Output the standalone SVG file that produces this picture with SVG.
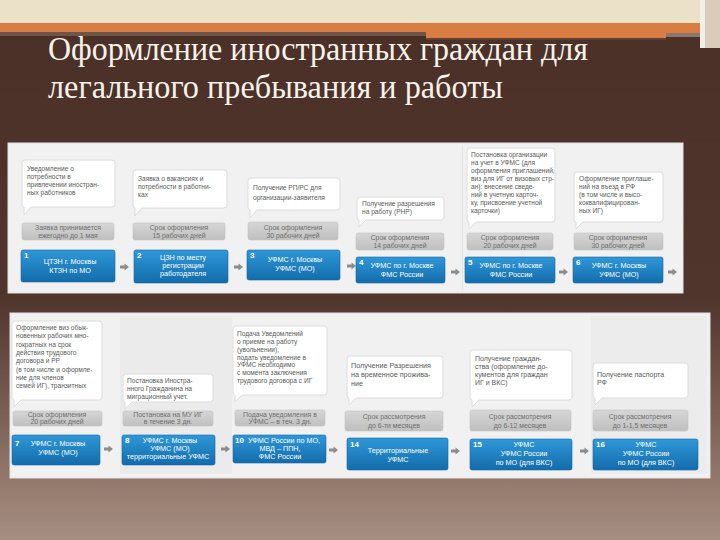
<svg xmlns="http://www.w3.org/2000/svg" width="720" height="540" viewBox="0 0 720 540">
<defs>
<linearGradient id="bg" x1="0" y1="0" x2="0" y2="1">
<stop offset="0" stop-color="#4a3027"/>
<stop offset="0.55" stop-color="#4f352c"/>
<stop offset="0.85" stop-color="#8b7164"/>
<stop offset="1" stop-color="#a68f82"/>
</linearGradient>
<linearGradient id="blue" x1="0" y1="0" x2="0" y2="1">
<stop offset="0" stop-color="#2f98d8"/>
<stop offset="1" stop-color="#136cab"/>
</linearGradient>
<linearGradient id="gray" x1="0" y1="0" x2="0" y2="1">
<stop offset="0" stop-color="#d6d6d6"/>
<stop offset="1" stop-color="#bfbfbf"/>
</linearGradient>
<path id="arr" d="M0,-1.6 H4.5 V-3.6 L9,0 L4.5,3.6 V1.6 H0 Z" fill="#8c8c8c"/>
<style>
.bub{fill:#ffffff;stroke:#dcdcdc;stroke-width:1}
.gb{fill:url(#gray);stroke:#c4c4c4;stroke-width:0.6}
.bb{fill:url(#blue);stroke:#1467a3;stroke-width:0.6}
.bt{font-family:"Liberation Sans",Arial,sans-serif;font-size:6.6px;fill:#5a5a5a}
.gt{font-family:"Liberation Sans",Arial,sans-serif;font-size:6.9px;fill:#6f6f6f;text-anchor:middle}
.wt{font-family:"Liberation Sans",Arial,sans-serif;font-size:7.2px;fill:#ffffff;text-anchor:middle}
.num{font-family:"Liberation Sans",Arial,sans-serif;font-size:8px;font-weight:bold;fill:#ffffff}
.ttl{font-family:"Liberation Serif","Times New Roman",serif;font-size:34px;fill:#f7f2ea}
</style>
</defs>

<!-- background -->
<rect x="0" y="0" width="720" height="540" fill="url(#bg)"/>
<rect x="0" y="0" width="720" height="23" fill="#ebe0c8"/>
<rect x="0" y="23" width="700" height="10" fill="#d97d43"/>
<rect x="0" y="32" width="426" height="4" fill="#6e5549"/>
<rect x="426" y="33" width="240" height="5" fill="#d97d43"/>
<rect x="426" y="38" width="240" height="2" fill="#5d3f33"/>
<rect x="666" y="33" width="36" height="4" fill="#8a776c"/>
<rect x="700" y="0" width="5" height="48" fill="#f2eee8"/>
<rect x="705" y="0" width="15" height="48" fill="#d8cdbb"/>

<!-- title -->
<text class="ttl" x="48" y="60" textLength="540" lengthAdjust="spacingAndGlyphs">Оформление иностранных граждан для</text>
<text class="ttl" x="48" y="98" textLength="455" lengthAdjust="spacingAndGlyphs">легального пребывания и работы</text>

<!-- panels -->
<rect x="8" y="143" width="675" height="150" fill="#f1f1f1" stroke="#e2e2e2"/>
<rect x="462" y="146" width="1" height="144" fill="#e4e4e4"/>
<rect x="10" y="313" width="700" height="165" fill="#f1f1f1" stroke="#e2e2e2"/>
<rect x="120" y="316" width="112" height="158" fill="#ebebeb"/>
<rect x="591" y="316" width="116" height="158" fill="#ececec"/>

<!-- connectors -->
<g id="connectors">
<use href="#arr" x="120" y="267"/>
<use href="#arr" x="234" y="267"/>
<use href="#arr" x="347" y="266"/>
<use href="#arr" x="451" y="272"/>
<use href="#arr" x="559" y="272"/>
<use href="#arr" x="668" y="272"/>
<use href="#arr" x="104" y="449"/>
<use href="#arr" x="221" y="449"/>
<use href="#arr" x="329" y="450"/>
<use href="#arr" x="451" y="451"/>
<use href="#arr" x="580" y="451"/>
</g>

<!-- step 1 -->
<g id="step1">
<path class="bub" d="M25,160 H112 Q115,160 115,163 V204 Q115,207 112,207 H31 L24,215 L24,207 Q22,207 22,204 V163 Q22,160 25,160 Z"/>
<text class="bt" x="27" y="171">Уведомление о</text>
<text class="bt" x="27" y="179">потребности в</text>
<text class="bt" x="27" y="187">привлечении иностран-</text>
<text class="bt" x="27" y="195">ных работников</text>
<rect class="gb" x="22" y="223" width="92" height="17" rx="2"/>
<text class="gt" x="68" y="230">Заявка принимается</text>
<text class="gt" x="68" y="238">ежегодно до 1 мая</text>
<rect class="bb" x="21" y="250" width="94" height="32" rx="2"/>
<text class="num" x="24" y="258">1</text>
<text class="wt" x="70" y="264">ЦТЗН г. Москвы</text>
<text class="wt" x="70" y="273">КТЗН по МО</text>
</g>

<!-- step 2 -->
<g id="step2">
<path class="bub" d="M136,170 H224 Q227,170 227,173 V205 Q227,208 224,208 H142 L135,216 L135,208 Q133,208 133,205 V173 Q133,170 136,170 Z"/>
<text class="bt" x="138" y="181">Заявка о вакансиях и</text>
<text class="bt" x="138" y="189">потребности в работни-</text>
<text class="bt" x="138" y="197">ках</text>
<rect class="gb" x="133" y="223" width="92" height="17" rx="2"/>
<text class="gt" x="179" y="230">Срок оформления</text>
<text class="gt" x="179" y="238">15 рабочих дней</text>
<rect class="bb" x="134" y="250" width="94" height="33" rx="2"/>
<text class="num" x="137" y="258">2</text>
<text class="wt" x="183" y="260">ЦЗН по месту</text>
<text class="wt" x="183" y="268">регистрации</text>
<text class="wt" x="183" y="276">работодателя</text>
</g>

<!-- step 3 -->
<g id="step3">
<path class="bub" d="M251,178 H337 Q340,178 340,181 V207 Q340,210 337,210 H257 L250,218 L250,210 Q248,210 248,207 V181 Q248,178 251,178 Z"/>
<text class="bt" x="253" y="190">Получение РП/РС для</text>
<text class="bt" x="253" y="200">организации-заявителя</text>
<rect class="gb" x="248" y="222" width="90" height="18" rx="2"/>
<text class="gt" x="293" y="230">Срок оформления</text>
<text class="gt" x="293" y="238">30 рабочих дней</text>
<rect class="bb" x="247" y="250" width="93" height="30" rx="2"/>
<text class="num" x="250" y="258">3</text>
<text class="wt" x="295" y="262">УФМС г. Москвы</text>
<text class="wt" x="295" y="271">УФМС (МО)</text>
</g>

<!-- step 4 -->
<g id="step4">
<path class="bub" d="M360,197 H441 Q444,197 444,200 V217 Q444,220 441,220 H366 L359,227 L359,220 Q357,220 357,217 V200 Q357,197 360,197 Z"/>
<text class="bt" x="362" y="206">Получение разрешения</text>
<text class="bt" x="362" y="214">на работу (РНР)</text>
<rect class="gb" x="356" y="233" width="88" height="17" rx="2"/>
<text class="gt" x="400" y="240">Срок оформления</text>
<text class="gt" x="400" y="248">14 рабочих дней</text>
<rect class="bb" x="356" y="257" width="89" height="26" rx="2"/>
<text class="num" x="359" y="265">4</text>
<text class="wt" x="402" y="268">УФМС по г. Москве</text>
<text class="wt" x="402" y="277">ФМС России</text>
</g>

<!-- step 5 -->
<g id="step5">
<path class="bub" d="M470,148 H552 Q555,148 555,151 V219 Q555,222 552,222 H476 L469,229 L469,222 Q467,222 467,219 V151 Q467,148 470,148 Z"/>
<text class="bt" x="471" y="157">Постановка организации</text>
<text class="bt" x="471" y="165">на учет в УФМС (для</text>
<text class="bt" x="471" y="173">оформления приглашений,</text>
<text class="bt" x="471" y="181">виз для ИГ от визовых стр-</text>
<text class="bt" x="471" y="189">ан): внесение сведе-</text>
<text class="bt" x="471" y="197">ний в учетную карточ-</text>
<text class="bt" x="471" y="205">ку, присвоение учетной</text>
<text class="bt" x="471" y="213">карточки)</text>
<rect class="gb" x="467" y="233" width="86" height="17" rx="2"/>
<text class="gt" x="510" y="240">Срок оформления</text>
<text class="gt" x="510" y="248">20 рабочих дней</text>
<rect class="bb" x="465" y="257" width="90" height="26" rx="2"/>
<text class="num" x="468" y="265">5</text>
<text class="wt" x="511" y="268">УФМС по г. Москве</text>
<text class="wt" x="511" y="277">ФМС России</text>
</g>

<!-- step 6 -->
<g id="step6">
<path class="bub" d="M577,172 H660 Q663,172 663,175 V219 Q663,222 660,222 H583 L576,229 L576,222 Q574,222 574,219 V175 Q574,172 577,172 Z"/>
<text class="bt" x="579" y="181">Оформление приглаше-</text>
<text class="bt" x="579" y="189">ний на въезд в РФ</text>
<text class="bt" x="579" y="197">(в том числе и высо-</text>
<text class="bt" x="579" y="205">коквалифицирован-</text>
<text class="bt" x="579" y="213">ных ИГ)</text>
<rect class="gb" x="574" y="233" width="89" height="17" rx="2"/>
<text class="gt" x="618" y="240">Срок оформления</text>
<text class="gt" x="618" y="248">30 рабочих дней</text>
<rect class="bb" x="573" y="257" width="90" height="26" rx="2"/>
<text class="num" x="576" y="265">6</text>
<text class="wt" x="619" y="268">УФМС г. Москвы</text>
<text class="wt" x="619" y="277">УФМС (МО)</text>
</g>

<!-- step 7 -->
<g id="step7">
<path class="bub" d="M15,321 H99 Q102,321 102,324 V397 Q102,400 99,400 H21 L14,407 L14,400 Q12,400 12,397 V324 Q12,321 15,321 Z"/>
<text class="bt" x="16" y="330">Оформление виз обык-</text>
<text class="bt" x="16" y="338">новенных рабочих мно-</text>
<text class="bt" x="16" y="347">гократных на срок</text>
<text class="bt" x="16" y="355">действия трудового</text>
<text class="bt" x="16" y="363">договора и РР</text>
<text class="bt" x="16" y="372">(в том числе и оформле-</text>
<text class="bt" x="16" y="380">ние для членов</text>
<text class="bt" x="16" y="388">семей ИГ), транзитных</text>
<rect class="gb" x="13" y="411" width="89" height="15" rx="2"/>
<text class="gt" x="57" y="417">Срок оформления</text>
<text class="gt" x="57" y="424">20 рабочих дней</text>
<rect class="bb" x="12" y="435" width="88" height="30" rx="2"/>
<text class="num" x="15" y="446">7</text>
<text class="wt" x="58" y="446">УФМС г. Москвы</text>
<text class="wt" x="58" y="455">УФМС (МО)</text>
</g>

<!-- step 8 -->
<g id="step8">
<path class="bub" d="M126,374 H210 Q213,374 213,377 V399 Q213,402 210,402 H132 L125,409 L125,402 Q123,402 123,399 V377 Q123,374 126,374 Z"/>
<text class="bt" x="127" y="383">Постановка Иностра-</text>
<text class="bt" x="127" y="391">нного Гражданина на</text>
<text class="bt" x="127" y="399">миграционный учет.</text>
<rect class="gb" x="123" y="411" width="90" height="15" rx="2"/>
<text class="gt" x="168" y="417">Постановка на МУ ИГ</text>
<text class="gt" x="168" y="424">в течение 3 дн.</text>
<rect class="bb" x="122" y="435" width="93" height="30" rx="2"/>
<text class="num" x="125" y="443">8</text>
<text class="wt" x="170" y="443">УФМС г. Москвы</text>
<text class="wt" x="170" y="451">УФМС (МО)</text>
<text class="wt" x="168" y="459">территориальные УФМС</text>
</g>

<!-- step 10 -->
<g id="step10">
<path class="bub" d="M236,326 H324 Q327,326 327,329 V392 Q327,395 324,395 H242 L235,402 L235,395 Q233,395 233,392 V329 Q233,326 236,326 Z"/>
<text class="bt" x="237" y="336">Подача Уведомлений</text>
<text class="bt" x="237" y="344">о приеме на работу</text>
<text class="bt" x="237" y="352">(увольнении),</text>
<text class="bt" x="237" y="360">подать уведомление в</text>
<text class="bt" x="237" y="367">УФМС необходимо</text>
<text class="bt" x="237" y="375">с момента заключения</text>
<text class="bt" x="237" y="383">трудового договора с ИГ</text>
<rect class="gb" x="235" y="410" width="90" height="16" rx="2"/>
<text class="gt" x="280" y="417">Подача уведомления в</text>
<text class="gt" x="280" y="424">УФМС – в теч. 3 дн.</text>
<rect class="bb" x="233" y="435" width="93" height="28" rx="2"/>
<text class="num" x="235" y="443">10</text>
<text class="wt" x="284" y="443">УФМС России по МО,</text>
<text class="wt" x="280" y="451">МВД – ППН,</text>
<text class="wt" x="280" y="459">ФМС России</text>
</g>

<!-- step 14 -->
<g id="step14">
<path class="bub" d="M350,356 H440 Q443,356 443,359 V395 Q443,398 440,398 H356 L349,405 L349,398 Q347,398 347,395 V359 Q347,356 350,356 Z"/>
<text class="bt" x="351" y="368" style="font-size:7.2px">Получение Разрешения</text>
<text class="bt" x="351" y="377" style="font-size:7.2px">на временное прожива-</text>
<text class="bt" x="351" y="386" style="font-size:7.2px">ние</text>
<rect class="gb" x="345" y="411" width="98" height="20" rx="2"/>
<text class="gt" x="394" y="419">Срок рассмотрения</text>
<text class="gt" x="394" y="428">до 6-ти месяцев</text>
<rect class="bb" x="347" y="438" width="101" height="32" rx="2"/>
<text class="num" x="350" y="447">14</text>
<text class="wt" x="398" y="453">Территориальные</text>
<text class="wt" x="398" y="462">УФМС</text>
</g>

<!-- step 15 -->
<g id="step15">
<path class="bub" d="M473,350 H569 Q572,350 572,353 V397 Q572,400 569,400 H479 L472,407 L472,400 Q470,400 470,397 V353 Q470,350 473,350 Z"/>
<text class="bt" x="475" y="361" style="font-size:7px">Получение граждан-</text>
<text class="bt" x="475" y="369" style="font-size:7px">ства (оформление до-</text>
<text class="bt" x="475" y="377" style="font-size:7px">кументов для граждан</text>
<text class="bt" x="475" y="385" style="font-size:7px">ИГ и ВКС)</text>
<rect class="gb" x="470" y="410" width="101" height="21" rx="2"/>
<text class="gt" x="520" y="419">Срок рассмотрения</text>
<text class="gt" x="520" y="428">до 6-12 месяцев</text>
<rect class="bb" x="470" y="439" width="102" height="31" rx="2"/>
<text class="num" x="473" y="447">15</text>
<text class="wt" x="524" y="447">УФМС</text>
<text class="wt" x="524" y="456">УФМС России</text>
<text class="wt" x="524" y="465">по МО (для ВКС)</text>
</g>

<!-- step 16 -->
<g id="step16">
<path class="bub" d="M596,363 H685 Q688,363 688,366 V395 Q688,398 685,398 H602 L595,405 L595,398 Q593,398 593,395 V366 Q593,363 596,363 Z"/>
<text class="bt" x="597" y="377" style="font-size:7px">Получение паспорта</text>
<text class="bt" x="597" y="385" style="font-size:7px">РФ</text>
<rect class="gb" x="593" y="410" width="95" height="21" rx="2"/>
<text class="gt" x="640" y="419">Срок рассмотрения</text>
<text class="gt" x="640" y="428">до 1-1,5 месяцев</text>
<rect class="bb" x="593" y="439" width="105" height="31" rx="2"/>
<text class="num" x="596" y="447">16</text>
<text class="wt" x="646" y="447">УФМС</text>
<text class="wt" x="646" y="456">УФМС России</text>
<text class="wt" x="646" y="465">по МО (для ВКС)</text>
</g>
</svg>
